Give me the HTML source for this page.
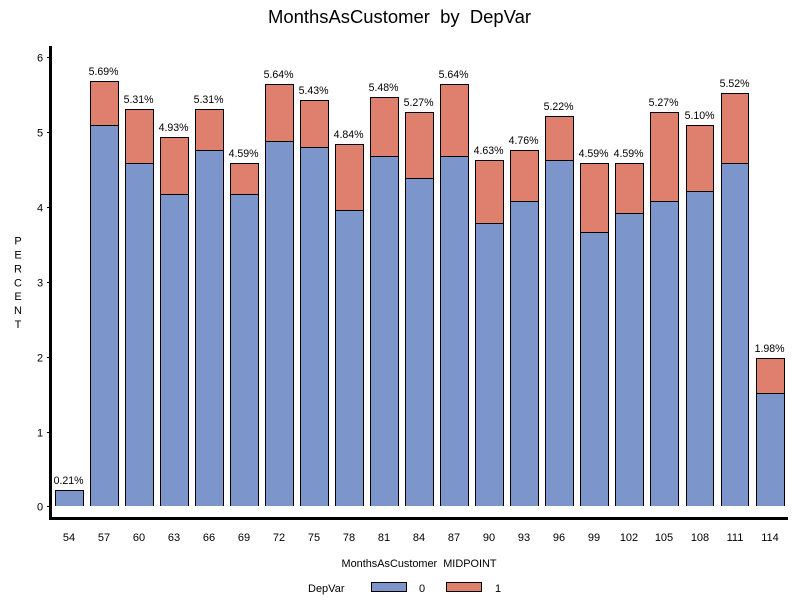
<!DOCTYPE html>
<html>
<head>
<meta charset="utf-8">
<title>MonthsAsCustomer by DepVar</title>
<style>
html,body{margin:0;padding:0;background:#fff;}
svg{display:block;}
text{font-family:"Liberation Sans",sans-serif;fill:#000;}
</style>
</head>
<body>
<svg id="chart" width="800" height="600" viewBox="0 0 800 600" xmlns="http://www.w3.org/2000/svg" shape-rendering="crispEdges">
  <rect x="0" y="0" width="800" height="600" fill="#fff"/>
  <text x="399.5" y="23" text-anchor="middle" font-size="18" textLength="263" lengthAdjust="spacingAndGlyphs" xml:space="preserve">MonthsAsCustomer  by  DepVar</text>
  <rect x="49" y="46" width="3" height="474" fill="#000"/>
  <rect x="49" y="517" width="739" height="3" fill="#000"/>
  <g font-size="11" text-anchor="middle">
    <text x="18" y="244.5">P</text>
    <text x="18" y="258.5">E</text>
    <text x="18" y="272.5">R</text>
    <text x="18" y="286.5">C</text>
    <text x="18" y="300">E</text>
    <text x="18" y="314">N</text>
    <text x="18" y="328">T</text>
  </g>
  <text x="419" y="567" text-anchor="middle" font-size="11" textLength="155" lengthAdjust="spacingAndGlyphs" xml:space="preserve">MonthsAsCustomer  MIDPOINT</text>
  <g id="marks"></g>
  <g>
    <text x="308" y="592" font-size="11">DepVar</text>
    <rect x="371.5" y="582.5" width="35" height="9" fill="#7C96CC" stroke="#000"/>
    <text x="419" y="592" font-size="11">0</text>
    <rect x="446.5" y="582.5" width="35" height="9" fill="#DF7F6E" stroke="#000"/>
    <text x="495" y="592" font-size="11">1</text>
  </g>
</svg>
<script>
const categories = [54,57,60,63,66,69,72,75,78,81,84,87,90,93,96,99,102,105,108,111,114];
const series0 = [0.214,5.10,4.59,4.17,4.76,4.17,4.88,4.80,3.96,4.68,4.39,4.68,3.79,4.08,4.63,3.67,3.92,4.08,4.22,4.59,1.51];
const series1 = [0,0.59,0.72,0.76,0.55,0.42,0.76,0.63,0.88,0.796,0.88,0.96,0.84,0.68,0.59,0.92,0.67,1.19,0.88,0.93,0.47];
const yTicks = [0,1,2,3,4,5,6];

const NS = 'http://www.w3.org/2000/svg';
const marks = document.getElementById('marks');
function yScale(v){ return 506.4 - v * 74.83; }
function xLeft(i){ return Math.floor(55.12 + i * 35.05); }
function xRight(i){ return Math.floor(55.12 + i * 35.05 + 27.9); }

function make(tag, attrs, text){
  const el = document.createElementNS(NS, tag);
  for (const k in attrs) el.setAttribute(k, attrs[k]);
  if (text !== undefined) el.textContent = text;
  marks.appendChild(el);
  return el;
}

yTicks.forEach(function(t){
  const y = Math.round(yScale(t));
  const tick = make('rect', {x:47, y:y, width:2, height:1, fill:'#000'});
  
  
  const label = make('text', {x:40, y:y + 4.5, 'text-anchor':'middle', 'font-size':11}, String(t));
  
  
});

categories.forEach(function(c, i){
  const left = xLeft(i) + 0.5;
  const right = xRight(i) + 0.5;
  const a = series0[i], b = series1[i];
  const base = Math.round(yScale(0));
  const midY = Math.round(yScale(a)) + 0.5;
  const bar0 = make('path', {d:'M' + left + ' ' + base + 'V' + midY + 'H' + right + 'V' + base + 'Z', fill:'#7C96CC', stroke:'none'});
  
  
  const edge0 = make('path', {d:'M' + left + ' ' + base + 'V' + midY + 'H' + right + 'V' + base, fill:'none', stroke:'#000'});
  
  
  const total = a + b;
  const topY = Math.round(yScale(total)) + 0.5;
  if (b > 0) {
    const bar1 = make('rect', {x:left, y:topY, width:right - left, height:midY - topY, fill:'#DF7F6E', stroke:'#000'});
    
    
  }
  const value = make('text', {x:xLeft(i) + 13.6, y:topY - 6.5, 'text-anchor':'middle', 'font-size':11, textLength:30, lengthAdjust:'spacingAndGlyphs'}, total.toFixed(2) + '%');
  
  
  const cat = make('text', {x:xLeft(i) + 14, y:541, 'text-anchor':'middle', 'font-size':11}, String(c));
  
  
});
</script>
</body>
</html>
